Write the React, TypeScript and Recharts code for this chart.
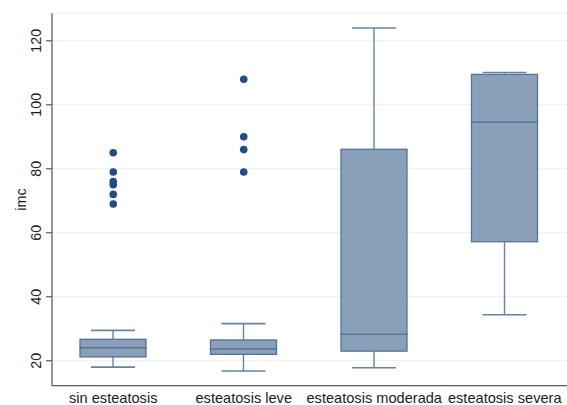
import React from 'react';
import { ComposedChart, Bar, Scatter, XAxis, YAxis, CartesianGrid } from 'recharts';

// ---- data ----
const categories = ['sin esteatosis', 'esteatosis leve', 'esteatosis moderada', 'esteatosis severa'];
const whiskerLow = [18.0, 16.8, 17.8, 34.4];
const q1 = [21.2, 22.0, 23.0, 57.2];
const median = [24.1, 23.7, 28.3, 94.6];
const q3 = [26.7, 26.5, 86.1, 109.5];
const whiskerHigh = [29.5, 31.6, 124.0, 110.1];
const outliers: number[][] = [
  [85, 79, 76, 75, 72, 69],
  [108, 90, 86, 79],
  [],
  [],
];
const yTicks = [20, 40, 60, 80, 100, 120];
const yDomain = [12.2, 128.6];
const yTitle = 'imc';

const MAX_OUT = 6;
const outKeys = Array.from({ length: MAX_OUT }, (_, i) => `o${i}`);

const data = categories.map((name, i) => {
  const row: any = {
    name,
    base: whiskerLow[i],
    lowW: q1[i] - whiskerLow[i],
    lowBox: median[i] - q1[i],
    upBox: q3[i] - median[i],
    upW: whiskerHigh[i] - q3[i],
  };
  outKeys.forEach((k, j) => {
    row[k] = outliers[i][j] !== undefined ? outliers[i][j] : null;
  });
  return row;
});

// ---- styles ----
const FONT = '"Liberation Sans", Arial, Helvetica, sans-serif';
const BOX_FILL = '#8aa0b8';
const BOX_EDGE = '#54739a';
const WHISK = '#6483a7';
const DOT = '#1f4d84';
const AXIS = '#5c5c5c';
const TEXT = '#1c1c1c';

const Empty = () => <g />;

const BoxRect = (p: any) => (
  <rect x={p.x} y={p.y} width={p.width} height={Math.max(p.height, 0)} fill={BOX_FILL} stroke={BOX_EDGE} strokeWidth={1.3} />
);

const LowWhisker = (p: any) => {
  const cx = p.x + p.width / 2;
  const half = p.width / 3;
  const yb = p.y + p.height;
  return (
    <g>
      <line x1={cx} x2={cx} y1={p.y} y2={yb} stroke={WHISK} strokeWidth={1.4} />
      <line x1={cx - half} x2={cx + half} y1={yb} y2={yb} stroke={WHISK} strokeWidth={1.6} />
    </g>
  );
};

const HighWhisker = (p: any) => {
  const cx = p.x + p.width / 2;
  const half = p.width / 3;
  return (
    <g>
      <line x1={cx} x2={cx} y1={p.y} y2={p.y + p.height} stroke={WHISK} strokeWidth={1.4} />
      <line x1={cx - half} x2={cx + half} y1={p.y} y2={p.y} stroke={WHISK} strokeWidth={1.6} />
    </g>
  );
};

const Dot = (p: any) => {
  if (p.cx == null || p.cy == null || !Number.isFinite(p.cx) || !Number.isFinite(p.cy)) return <g />;
  return <circle cx={p.cx} cy={p.cy} r={3.8} fill={DOT} />;
};

const YTick = (props: any) => {
  const { x, y, payload } = props;
  const tx = x - 5.3;
  return (
    <text x={tx} y={y} textAnchor="middle" transform={`rotate(-90, ${tx}, ${y})`} fontFamily={FONT} fontSize={14.3} fill={TEXT}>
      {payload.value}
    </text>
  );
};

const XTick = (props: any) => {
  const { x, y, payload } = props;
  return (
    <text x={x} y={y + 17} textAnchor="middle" fontFamily={FONT} fontSize={14.6} fill={TEXT}>
      {payload.value}
    </text>
  );
};

const YTitle = (props: any) => {
  const vb = props.viewBox || {};
  const cy = vb.y != null ? vb.y + vb.height / 2 : 199.5;
  const tx = 25.5;
  return (
    <text x={tx} y={cy} textAnchor="middle" transform={`rotate(-90, ${tx}, ${cy})`} fontFamily={FONT} fontSize={14.3} fill={TEXT}>
      {yTitle}
    </text>
  );
};

export default function App() {
  return (
    <div style={{ position: 'absolute', left: 0, top: 0, width: 567, height: 405, background: '#ffffff' }}>
      <ComposedChart width={567} height={405} data={data} margin={{ top: 13.3, right: 0, bottom: 18.3, left: 0 }}>
        <CartesianGrid vertical={false} stroke="#e9efef" strokeWidth={1} />
        <XAxis
          dataKey="name"
          type="category"
          allowDuplicatedCategory={false}
          padding={{ left: -4, right: -3 }}
          height={1}
          tickLine={false}
          tickSize={0}
          tickMargin={0}
          tick={<XTick />}
          axisLine={{ stroke: AXIS, strokeWidth: 1.3 }}
          interval={0}
        />
        <YAxis
          type="number"
          domain={yDomain}
          ticks={yTicks}
          allowDataOverflow
          width={52}
          tickSize={6}
          tickMargin={0}
          tickLine={{ stroke: AXIS, strokeWidth: 1.2 }}
          axisLine={{ stroke: AXIS, strokeWidth: 1.3 }}
          tick={<YTick />}
          interval={0}
          label={<YTitle />}
        />
        <Bar dataKey="base" stackId="box" barSize={66} fill="none" shape={<Empty />} isAnimationActive={false} />
        <Bar dataKey="lowW" stackId="box" barSize={66} shape={<LowWhisker />} isAnimationActive={false} />
        <Bar dataKey="lowBox" stackId="box" barSize={66} shape={<BoxRect />} isAnimationActive={false} />
        <Bar dataKey="upBox" stackId="box" barSize={66} shape={<BoxRect />} isAnimationActive={false} />
        <Bar dataKey="upW" stackId="box" barSize={66} shape={<HighWhisker />} isAnimationActive={false} />
        {outKeys.map((k) => (
          <Scatter key={k} dataKey={k} fill={DOT} shape={<Dot />} isAnimationActive={false} />
        ))}
      </ComposedChart>
    </div>
  );
}
